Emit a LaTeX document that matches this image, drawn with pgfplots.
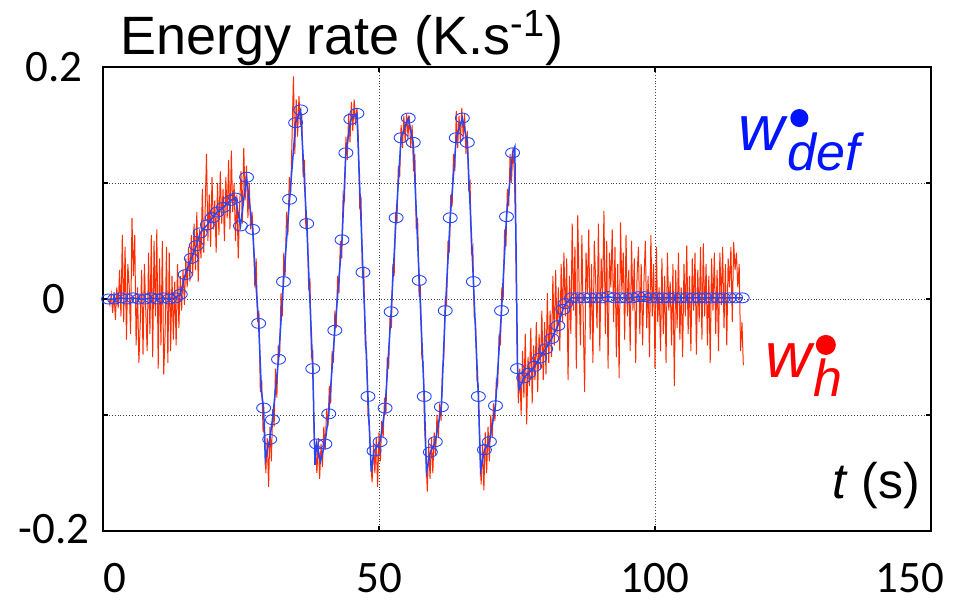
\documentclass[border=0pt]{standalone}
\usepackage{pgfplots}
\pgfplotsset{compat=1.18}
\usepackage{pgfplotstable}
\usepackage{fontspec}
\setmainfont{Carlito}
\newfontfamily\arial{Liberation Sans}
\definecolor{wred}{RGB}{255,45,0}
\definecolor{wblue}{RGB}{35,70,255}
\definecolor{tblue}{RGB}{0,20,255}
\definecolor{tred}{RGB}{255,0,0}

\pgfplotstableread{
t y
1.00 0.000
1.25 -0.005
1.50 0.004
1.75 -0.012
2.00 0.006
2.25 -0.018
2.50 0.010
2.75 -0.008
3.00 0.025
3.25 -0.015
3.50 0.055
3.75 -0.020
4.00 0.045
4.25 -0.035
4.50 0.030
4.75 0.010
5.00 -0.030
5.25 0.070
5.50 0.020
5.75 0.055
6.00 -0.040
6.25 0.010
6.50 -0.055
6.75 -0.020
7.00 0.025
7.25 -0.048
7.50 0.030
7.75 -0.010
8.00 -0.045
8.25 0.040
8.50 -0.030
8.75 0.055
9.00 -0.050
9.25 0.050
9.50 -0.015
9.75 0.060
10.00 -0.060
10.25 0.035
10.50 -0.040
10.75 0.050
11.00 -0.065
11.25 -0.030
11.50 0.045
11.75 -0.055
12.00 0.040
12.25 -0.045
12.50 0.020
12.75 -0.035
13.00 0.015
13.25 -0.040
13.50 0.030
13.75 -0.025
14.00 0.020
14.25 -0.010
14.50 0.025
14.75 -0.005
15.00 0.035
15.25 0.010
15.50 0.045
15.75 0.015
16.00 0.055
16.25 0.020
16.50 0.065
16.75 0.025
17.00 0.075
17.25 0.015
17.50 0.060
17.75 0.035
18.00 0.095
18.25 0.040
18.50 0.075
18.75 0.125
19.00 0.050
19.25 0.090
19.50 0.045
19.75 0.105
20.00 0.060
20.25 0.085
20.50 0.040
20.75 0.100
21.00 0.055
21.25 0.110
21.50 0.065
21.75 0.095
22.00 0.050
22.25 0.105
22.50 0.070
22.75 0.120
23.00 0.060
23.25 0.128
23.50 0.075
23.75 0.100
24.00 0.050
24.25 0.090
24.50 0.035
24.75 0.080
25.00 0.110
25.25 0.065
25.50 0.130
25.75 0.085
26.00 0.115
26.25 0.070
26.50 0.100
26.75 0.060
27.00 0.075
27.25 0.055
27.50 0.010
27.75 0.035
28.00 -0.020
28.25 -0.010
28.50 -0.080
28.75 -0.070
29.00 -0.115
29.25 -0.105
29.50 -0.150
29.75 -0.120
30.00 -0.162
30.25 -0.110
30.50 -0.140
30.75 -0.095
31.00 -0.110
31.25 -0.060
31.50 -0.085
31.75 -0.040
32.00 -0.050
32.25 0.005
32.50 -0.015
32.75 0.040
33.00 0.020
33.25 0.075
33.50 0.055
33.75 0.105
34.00 0.090
34.25 0.140
34.50 0.192
34.75 0.125
35.00 0.172
35.25 0.140
35.50 0.175
35.75 0.150
36.00 0.160
36.25 0.105
36.50 0.120
36.75 0.060
37.00 0.070
37.25 0.010
37.50 0.015
37.75 -0.050
38.00 -0.045
38.25 -0.120
38.50 -0.130
38.75 -0.150
39.00 -0.120
39.25 -0.155
39.50 -0.125
39.75 -0.145
40.00 -0.110
40.25 -0.130
40.50 -0.095
40.75 -0.110
41.00 -0.075
41.25 -0.090
41.50 -0.045
41.75 -0.055
42.00 -0.010
42.25 -0.025
42.50 0.020
42.75 0.005
43.00 0.050
43.25 0.035
43.50 0.090
43.75 0.085
44.00 0.140
44.25 0.120
44.50 0.160
44.75 0.135
45.00 0.170
45.25 0.145
45.50 0.172
45.75 0.150
46.00 0.165
46.25 0.140
46.50 0.080
46.75 0.085
47.00 0.020
47.25 0.025
47.50 -0.040
47.75 -0.045
48.00 -0.100
48.25 -0.110
48.50 -0.140
48.75 -0.158
49.00 -0.125
49.25 -0.150
49.50 -0.120
49.75 -0.162
50.00 -0.115
50.25 -0.140
50.50 -0.105
50.75 -0.120
51.00 -0.085
51.25 -0.100
51.50 -0.050
51.75 -0.060
52.00 -0.015
52.25 -0.025
52.50 0.030
52.75 0.020
53.00 0.075
53.25 0.065
53.50 0.115
53.75 0.105
54.00 0.150
54.25 0.130
54.50 0.158
54.75 0.135
55.00 0.160
55.25 0.140
55.50 0.158
55.75 0.130
56.00 0.150
56.25 0.110
56.50 0.125
56.75 0.060
57.00 0.070
57.25 0.005
57.50 0.010
57.75 -0.050
58.00 -0.055
58.25 -0.110
58.50 -0.135
58.75 -0.166
59.00 -0.125
59.25 -0.155
59.50 -0.120
59.75 -0.150
60.00 -0.115
60.25 -0.135
60.50 -0.100
60.75 -0.120
61.00 -0.090
61.25 -0.105
61.50 -0.060
61.75 -0.050
62.00 0.000
62.25 -0.005
62.50 0.050
62.75 0.040
63.00 0.090
63.25 0.080
63.50 0.125
63.75 0.110
64.00 0.162
64.25 0.130
64.50 0.158
64.75 0.135
65.00 0.165
65.25 0.140
65.50 0.160
65.75 0.125
66.00 0.145
66.25 0.095
66.50 0.100
66.75 0.040
67.00 0.045
67.25 -0.015
67.50 -0.020
67.75 -0.070
68.00 -0.075
68.25 -0.120
68.50 -0.160
68.75 -0.125
69.00 -0.165
69.25 -0.115
69.50 -0.150
69.75 -0.110
70.00 -0.140
70.25 -0.100
70.50 -0.120
70.75 -0.090
71.00 -0.105
71.25 -0.070
71.50 -0.075
71.75 -0.030
72.00 -0.040
72.25 0.010
72.50 0.000
72.75 0.060
73.00 0.045
73.25 0.095
73.50 0.080
73.75 0.125
74.00 0.100
74.25 0.130
74.50 0.110
74.75 0.060
75.00 -0.040
75.25 -0.090
75.50 -0.060
75.75 -0.100
76.00 -0.045
76.25 -0.085
76.50 -0.030
76.75 -0.108
77.00 -0.050
77.25 -0.075
77.50 -0.025
77.75 -0.090
78.00 -0.040
78.25 -0.070
78.50 -0.020
78.75 -0.080
79.00 -0.030
79.25 -0.060
79.50 -0.010
79.75 -0.070
80.00 -0.020
80.25 -0.065
80.50 0.005
80.75 -0.055
81.00 -0.010
81.25 -0.050
81.50 0.020
81.75 -0.040
82.00 0.025
82.25 -0.030
82.50 0.010
82.75 -0.045
83.00 0.030
83.25 -0.020
83.50 0.040
83.75 -0.015
84.00 0.035
84.25 -0.070
84.50 0.020
84.75 -0.030
85.00 0.065
85.25 -0.010
85.50 0.045
85.75 -0.060
86.00 0.072
86.25 0.010
86.50 -0.040
86.75 0.055
87.00 -0.020
87.25 -0.080
87.50 0.040
87.75 0.005
88.00 0.060
88.25 -0.035
88.50 0.030
88.75 -0.055
89.00 0.050
89.25 0.015
89.50 -0.025
89.75 0.065
90.00 -0.045
90.25 0.035
90.50 0.000
90.75 0.076
91.00 -0.030
91.25 0.050
91.50 -0.060
91.75 0.040
92.00 0.010
92.25 0.060
92.50 -0.020
92.75 0.045
93.00 -0.050
93.25 0.030
93.50 -0.068
93.75 0.066
94.00 0.005
94.25 0.040
94.50 -0.035
94.75 0.055
95.00 -0.015
95.25 0.025
95.50 -0.045
95.75 0.050
96.00 -0.010
96.25 0.035
96.50 -0.055
96.75 0.020
97.00 0.045
97.25 -0.030
97.50 0.030
97.75 -0.040
98.00 0.015
98.25 0.050
98.50 -0.025
98.75 0.020
99.00 -0.050
99.25 0.055
99.50 -0.015
99.75 0.030
100.00 -0.060
100.25 0.045
100.50 -0.020
100.75 0.010
101.00 -0.045
101.25 0.035
101.50 -0.030
101.75 0.020
102.00 -0.055
102.25 0.040
102.50 -0.010
102.75 0.015
103.00 -0.040
103.25 0.030
103.50 -0.075
103.75 0.025
104.00 -0.025
104.25 0.040
104.50 -0.035
104.75 0.010
105.00 -0.050
105.25 0.030
105.50 -0.015
105.75 0.046
106.00 -0.030
106.25 0.020
106.50 -0.045
106.75 0.035
107.00 -0.010
107.25 0.040
107.50 -0.048
107.75 0.025
108.00 -0.020
108.25 0.045
108.50 -0.035
108.75 0.048
109.00 -0.015
109.25 0.030
109.50 -0.040
109.75 0.020
110.00 -0.055
110.25 0.035
110.50 -0.010
110.75 0.040
111.00 -0.030
111.25 0.025
111.50 -0.045
111.75 0.040
112.00 -0.005
112.25 0.045
112.50 -0.025
112.75 0.030
113.00 -0.040
113.25 0.035
113.50 0.010
113.75 0.045
114.00 -0.020
114.25 0.049
114.50 0.025
114.75 0.040
115.00 0.010
115.25 0.030
115.50 -0.045
115.75 -0.020
116.00 -0.057
}\redtab

\pgfplotstableread{
t y
1.0 0
2.1 0
3.2 0.001
4.3 0
5.4 0.001
6.5 0
7.6 0
8.7 0.001
9.8 0
10.9 0.001
12.0 0
13.1 0.001
14.0 0.004
14.9 0.021
16.0 0.035
16.9 0.046
17.6 0.057
18.9 0.064
19.8 0.070
20.7 0.075
21.8 0.079
23.1 0.085
24.0 0.087
24.9 0.063
26.0 0.105
27.1 0.060
27.6 0.020
28.2 -0.021
28.7 -0.080
29.1 -0.094
29.4 -0.138
30.2 -0.121
30.7 -0.104
31.8 -0.052
32.7 0.015
33.8 0.086
34.9 0.152
35.8 0.163
36.9 0.065
38.0 -0.060
38.4 -0.143
38.7 -0.125
39.4 -0.140
40.2 -0.125
40.9 -0.099
42.0 -0.027
43.3 0.051
44.0 0.126
44.9 0.155
46.0 0.160
47.1 0.023
48.0 -0.084
48.6 -0.149
49.1 -0.131
50.2 -0.123
51.1 -0.094
52.2 -0.011
53.1 0.070
54.0 0.139
55.3 0.156
56.2 0.135
57.3 0.016
58.2 -0.084
58.6 -0.149
59.3 -0.132
60.2 -0.123
61.3 -0.093
62.0 -0.010
62.9 0.070
64.0 0.139
65.1 0.156
66.0 0.135
67.1 0.015
68.0 -0.084
68.4 -0.148
69.1 -0.130
70.0 -0.123
71.1 -0.092
72.2 -0.010
73.1 0.071
74.2 0.126
74.6 0.131
75.1 -0.060
75.4 -0.078
76.2 -0.068
77.1 -0.064
78.2 -0.058
79.1 -0.051
80.2 -0.043
81.3 -0.034
82.4 -0.023
83.3 -0.009
83.8 -0.004
84.9 0.001
86.0 0.001
87.1 0.001
88.2 0.001
89.3 0.001
90.4 0.001
91.5 0.002
92.6 0.001
93.7 0.001
94.8 0.001
95.9 0.001
97.0 0.002
98.1 0.002
99.2 0.001
100.3 0.001
101.4 0.001
102.5 0.001
103.6 0.001
104.7 0.001
105.8 0.001
106.9 0.001
108.0 0.001
109.1 0.001
110.2 0.001
111.3 0.001
112.4 0.001
113.5 0.001
114.6 0.001
115.8 0.001
}\blueline

\pgfplotstableread{
t y
1.0 0
2.1 0
3.2 0.001
4.3 0
5.4 0.001
6.5 0
7.6 0
8.7 0.001
9.8 0
10.9 0.001
12.0 0
13.1 0.001
14.0 0.004
14.9 0.021
16.0 0.035
16.9 0.046
17.6 0.057
18.9 0.064
19.8 0.070
20.7 0.075
21.8 0.079
23.1 0.085
24.0 0.087
24.9 0.063
26.0 0.105
27.1 0.060
28.2 -0.021
29.1 -0.094
30.2 -0.121
30.7 -0.104
31.8 -0.052
32.7 0.015
33.8 0.086
34.9 0.152
35.8 0.163
36.9 0.065
38.0 -0.060
38.7 -0.125
40.2 -0.125
40.9 -0.099
42.0 -0.027
43.3 0.051
44.0 0.126
44.9 0.155
46.0 0.160
47.1 0.023
48.0 -0.084
49.1 -0.131
50.2 -0.123
51.1 -0.094
52.2 -0.011
53.1 0.070
54.0 0.139
55.3 0.156
56.2 0.135
57.3 0.016
58.2 -0.084
59.3 -0.132
60.2 -0.123
61.3 -0.093
62.0 -0.010
62.9 0.070
64.0 0.139
65.1 0.156
66.0 0.135
67.1 0.015
68.0 -0.084
69.1 -0.130
70.0 -0.123
71.1 -0.092
72.2 -0.010
73.1 0.071
74.2 0.126
75.1 -0.060
76.2 -0.068
77.1 -0.064
78.2 -0.058
79.1 -0.051
80.2 -0.043
81.3 -0.034
82.4 -0.023
83.3 -0.009
83.8 -0.004
84.9 0.001
86.0 0.001
87.1 0.001
88.2 0.001
89.3 0.001
90.4 0.001
91.5 0.002
92.6 0.001
93.7 0.001
94.8 0.001
95.9 0.001
97.0 0.002
98.1 0.002
99.2 0.001
100.3 0.001
101.4 0.001
102.5 0.001
103.6 0.001
104.7 0.001
105.8 0.001
106.9 0.001
108.0 0.001
109.1 0.001
110.2 0.001
111.3 0.001
112.4 0.001
113.5 0.001
114.6 0.001
115.8 0.001
}\bluemarks

\begin{document}
\begin{tikzpicture}
\begin{axis}[
  name=ax,
  at={(0,0)}, anchor=south west,
  scale only axis, width=414pt, height=232pt,
  xmin=0, xmax=150, ymin=-0.2, ymax=0.2,
  clip=false,
  axis line style={black, line width=0.9pt},
  xtick={0,50,100,150},
  xticklabels={\kern12pt 0,50,100,150\kern21pt},
  ytick={-0.2,-0.1,0,0.1,0.2},
  yticklabels={\raisebox{2pt}{-0.2},,0,,\raisebox{-7pt}{0.2}},
  xticklabel style={anchor=center, yshift=-23.5pt, font=\fontsize{22.5}{24}\selectfont},
  yticklabel style={anchor=center, xshift=-24.5pt, font=\fontsize{22.5}{24}\selectfont},
  major tick length=2.5pt,
  tick style={black, line width=0.6pt},
  grid=major,
  major grid style={black!75, line width=0.45pt, densely dotted},
]
\addplot[wred, line width=0.5pt] table[x=t, y=y] {\redtab};
\addplot[wblue, line width=0.75pt, mark=none] table[x=t, y=y] {\blueline};
\addplot[wblue, only marks, mark=o, mark size=2.5pt, mark options={xscale=1.4, line width=0.45pt}] table[x=t, y=y] {\bluemarks};

\node[anchor=base west, inner sep=0pt, font=\arial\fontsize{27}{30}\selectfont]
  at (rel axis cs:0,1) [xshift=8.5pt, yshift=6pt] {Energy rate (K.s\textsuperscript{-1})};

\node[anchor=base west, inner sep=0pt, text=tblue, font=\arial\itshape\fontsize{32}{34}\selectfont]
  at (rel axis cs:0.767,0.819) {w};
\node[anchor=base west, inner sep=0pt, text=tblue, font=\arial\itshape\fontsize{26}{28}\selectfont]
  at (rel axis cs:0.826,0.776) {def};
\node[circle, fill=tblue, inner sep=0pt, minimum size=9pt] at (rel axis cs:0.841,0.890) {};

\node[anchor=base west, inner sep=0pt, text=tred, font=\arial\itshape\fontsize{32}{34}\selectfont]
  at (rel axis cs:0.800,0.330) {w};
\node[anchor=base west, inner sep=0pt, text=tred, font=\arial\itshape\fontsize{26}{28}\selectfont]
  at (rel axis cs:0.857,0.289) {h};
\node[circle, fill=tred, inner sep=0pt, minimum size=10pt] at (rel axis cs:0.873,0.401) {};

\node[anchor=base west, inner sep=0pt, font=\arial\fontsize{25}{28}\selectfont]
  at (rel axis cs:0.880,0.069) {\textit{t} (s)};
\end{axis}
\pgfresetboundingbox
\path[use as bounding box] ([shift={(-51.5pt,-39pt)}]ax.south west) rectangle ([shift={(20.5pt,33.5pt)}]ax.north east);
\end{tikzpicture}
\end{document}
